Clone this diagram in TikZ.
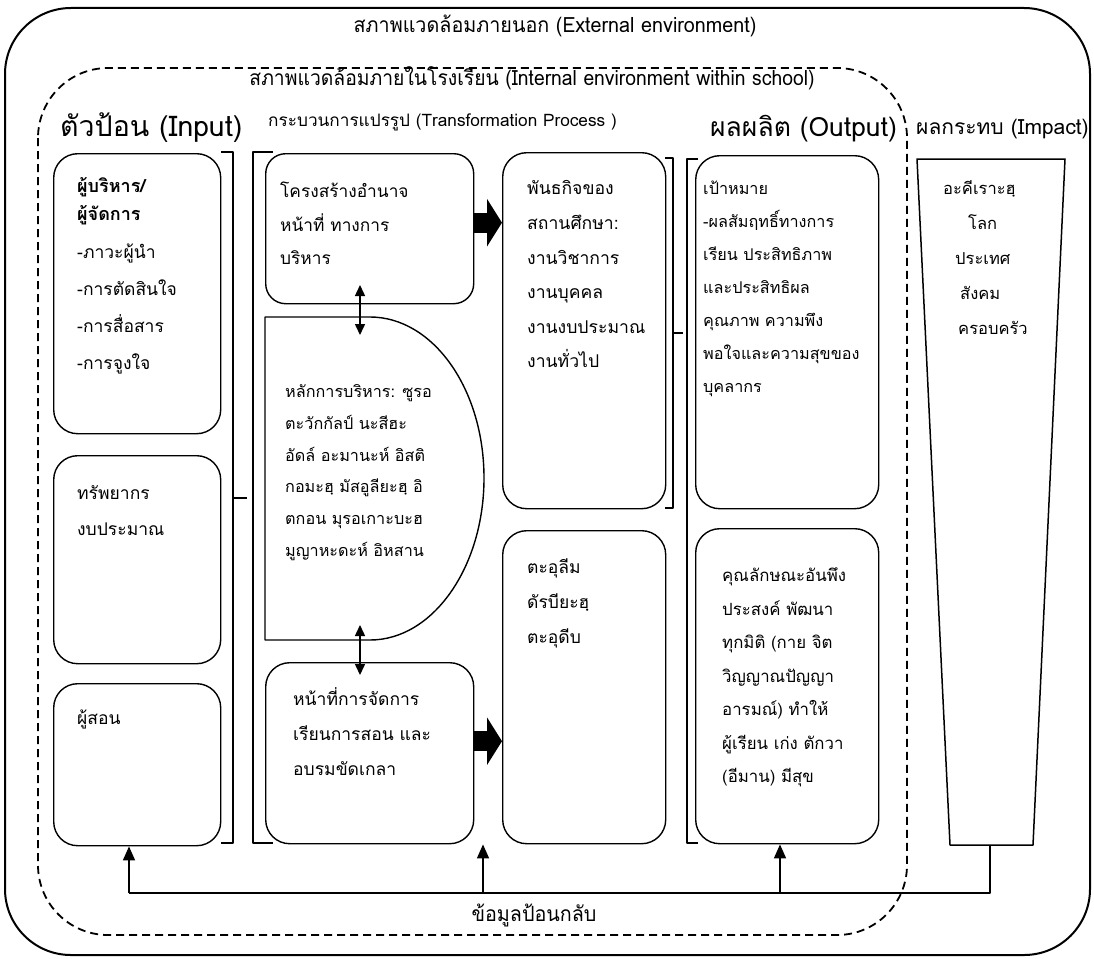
\documentclass[tikz,border=0pt]{standalone}
\usepackage{fontspec}
\setmainfont{Loma}[Script=Thai]
\usetikzlibrary{arrows.meta,calc}
\newcommand\fsz[2]{\fontsize{#1}{#2}\selectfont}
\begin{document}
\begin{tikzpicture}[x=1pt,y=-1pt,line join=round,
  box/.style={draw,line width=1.4pt,rounded corners=24pt,anchor=north west,inner sep=0pt},
  txt/.style={anchor=north west,inner sep=0pt,align=left},
  lbl/.style={anchor=base,inner sep=0pt},
  hdr/.style={anchor=base west,inner sep=0pt},
  brk/.style={line width=1.3pt},
  big/.style={line width=20pt,-{Triangle[length=15pt,width=47pt]}},
  dbl/.style={line width=1.5pt,{Triangle[length=11pt,width=10pt]}-{Triangle[length=11pt,width=10pt]}},
  fb/.style={line width=1.6pt},
  fbarrow/.style={line width=1.6pt,-{Triangle[length=14pt,width=12pt]}},
]
\useasboundingbox (0,0) rectangle (1094,958);
% environments
\draw[line width=2pt,rounded corners=66pt] (5,8) rectangle (1090,955);
\draw[line width=1.8pt,dash pattern=on 8pt off 5pt,rounded corners=70pt] (38,68) rectangle (907,935);
\node[lbl,font=\fsz{21}{26}] (ext) at (555,33) {\scalebox{0.94}[1]{สภาพแวดล้อมภายนอก (External environment)}};
\node[lbl,font=\fsz{21}{26}] (int) at (532,85) {\scalebox{0.92}[1]{สภาพแวดล้อมภายในโรงเรียน (Internal environment within school)}};
% headers
\node[hdr,font=\fsz{28.5}{32}] (hin) at (60,136.5) {ตัวป้อน (Input)};
\node[hdr,font=\fsz{17.2}{20}] (htr) at (268,126.5) {กระบวนการแปรรูป (Transformation Process )};
\node[hdr,font=\fsz{26.5}{30}] (hout) at (710,136) {ผลผลิต (Output)};
\node[hdr,font=\fsz{21}{24}] (himp) at (916,134.5) {ผลกระทบ (Impact)};
% input boxes
\node[box,minimum width=167pt,minimum height=280pt] (in1) at (53,153) {};
\node[box,minimum width=167pt,minimum height=208pt] (in2) at (53,455) {};
\node[box,minimum width=167pt,minimum height=162pt] (in3) at (53,683) {};
\node[txt,font=\bfseries\fsz{18}{28.5}] (in1a) at (77,172) {\strut ผู้บริหาร/\\ผู้จัดการ};
\node[txt,font=\fsz{17.5}{37}] (in1b) at (77,232) {\strut -ภาวะผู้นำ\\-การตัดสินใจ\\-การสื่อสาร\\-การจูงใจ};
\node[txt,font=\fsz{17.5}{36}] (in2t) at (77,474) {\strut ทรัพยากร\\งบประมาณ};
\node[txt,font=\fsz{17.5}{34.5}] (in3t) at (77,700) {\strut ผู้สอน};
% brackets
\draw[brk] (221,152) -- (233,152) -- (233,843) -- (221,843);
\draw[brk] (233,498) -- (247,498);
\draw[brk] (273,152) -- (253,152) -- (253,843) -- (273,843);
\draw[brk] (665,158) -- (673,158) -- (673,508) -- (665,508);
\draw[brk] (673,333) -- (683,333);
\draw[brk] (698,159) -- (687,159) -- (687,843) -- (698,843);
% transformation
\node[box,rounded corners=20pt,minimum width=208pt,minimum height=150pt] (tb) at (265,153) {};
\node[txt,font=\fsz{17.3}{33.5}] (tbt) at (280,174.3) {\strut โครงสร้างอำนาจ\\หน้าที่ ทางการ\\บริหาร};
\draw[line width=1.4pt] (265,317) -- (370,317) .. controls (433,317) and (484,389) .. (484,478) .. controls (484,567) and (433,640) .. (370,640) -- (265,640) -- cycle;
\node[txt,font=\fsz{16.2}{31.8}] (dt) at (285,375) {\strut หลักการบริหาร: ซูรอ\\ตะวักกัลป์ นะสีฮะ\\อัดล์ อะมานะห์ อิสติ\\กอมะฮฺ มัสอูลียะฮฺ อิ\\ตกอน มุรอเกาะบะฮ\\มูญาหะดะห์ อิหสาน};
\node[box,minimum width=208pt,minimum height=181pt] (bb) at (265,662) {};
\node[txt,font=\fsz{17.5}{35}] (bbt) at (293,680.3) {\strut หน้าที่การจัดการ\\เรียนการสอน และ\\อบรมขัดเกลา};
% column 3
\node[box,minimum width=163pt,minimum height=356pt] (c1) at (502,152) {};
\node[txt,font=\fsz{17.6}{34.6}] (c1t) at (527,170.5) {\strut พันธกิจของ\\สถานศึกษา:\\งานวิชาการ\\งานบุคคล\\งานงบประมาณ\\งานทั่วไป};
\node[box,minimum width=163pt,minimum height=313pt] (c2) at (502,530) {};
\node[txt,font=\fsz{17.5}{35}] (c2t) at (527,548.3) {\strut ตะอุลีม\\ดัรบียะฮฺ\\ตะอุดีบ};
% output
\node[box,minimum width=183pt,minimum height=353pt] (oA) at (695,155) {};
\node[txt,font=\fsz{16.2}{33}] (oAt) at (703,171.2) {\strut เป้าหมาย\\-ผลสัมฤทธิ์ทางการ\\เรียน ประสิทธิภาพ\\และประสิทธิผล\\คุณภาพ ความพึง\\พอใจและความสุขของ\\บุคลากร};
\node[box,minimum width=183pt,minimum height=315pt] (oB) at (695,528) {};
\node[txt,font=\fsz{16.8}{33.5}] (oBt) at (722,558) {\strut คุณลักษณะอันพึง\\ประสงค์ พัฒนา\\ทุกมิติ (กาย จิต\\วิญญาณปัญญา\\อารมณ์) ทำให้\\ผู้เรียน เก่ง ตักวา\\(อีมาน) มีสุข};
% impact
\draw[line width=1.5pt] (917,159) -- (1065,159) -- (1033,845) -- (950,845) -- cycle;
\coordinate (impB) at (990,845);
\node[hdr,font=\fsz{16.5}{20}] (i1) at (943,194.5) {อะคีเราะฮฺ};
\node[hdr,font=\fsz{16.5}{20}] (i2) at (968,229.5) {โลก};
\node[hdr,font=\fsz{16.5}{20}] (i3) at (955,264.5) {ประเทศ};
\node[hdr,font=\fsz{16.5}{20}] (i4) at (960,299.5) {สังคม};
\node[hdr,font=\fsz{16.5}{20}] (i5) at (958,334.5) {ครอบครัว};
% connectors
\coordinate (a1) at ($(tb.east)+(0,-6)$);
\draw[big] (a1) -- (a1 -| c1.west);
\coordinate (a2) at ($(bb.east)+(0,-12)$);
\draw[big] (a2) -- (a2 -| c2.west);
\coordinate (u1) at (360,285);
\coordinate (u2) at (360,335);
\draw[dbl] (u1) -- (u2);
\coordinate (v1) at (360,625);
\coordinate (v2) at (360,675);
\draw[dbl] (v1) -- (v2);
% feedback
\coordinate (fR) at (990,893);
\coordinate (f1) at (129,893);
\coordinate (f2) at (483,893);
\coordinate (f3) at (780,893);
\draw[fb] (impB) -- (fR) -- (f1);
\draw[fbarrow] (f1) -- (f1 |- in3.south);
\draw[fbarrow] (f2) -- (f2 |- bb.south);
\draw[fbarrow] (f3) -- (f3 |- oB.south);
\node[lbl,font=\fsz{21}{26}] (fbl) at (534,921) {\scalebox{0.94}[1]{ข้อมูลป้อนกลับ}};
\end{tikzpicture}
\end{document}
